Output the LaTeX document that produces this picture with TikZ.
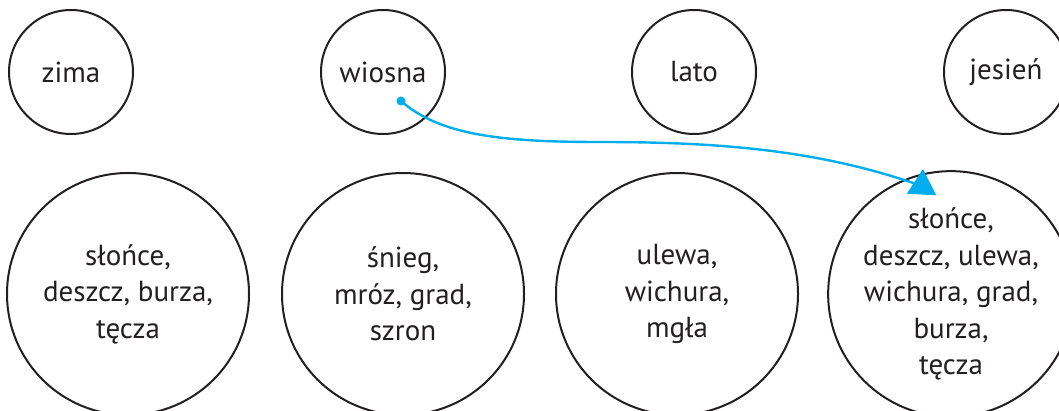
\documentclass[tikz,border=0pt]{standalone}
\usepackage{fontspec}
\setmainfont{PT Sans}
\usetikzlibrary{shapes.geometric, arrows.meta, positioning}
\definecolor{ink}{HTML}{231F20}
\definecolor{procCyan}{HTML}{00AEEF}

\begin{document}
\begin{tikzpicture}[x=1pt, y=-1pt,
  every node/.style={font=\fontsize{29}{36.5}\selectfont, text=ink},
  season/.style={draw=ink, line width=2pt, circle, minimum size=124pt,
    inner sep=0pt},
  weather/.style={draw=ink, line width=2pt, circle, minimum size=242pt,
    inner sep=0pt, align=center},
  src/.style={circle, fill=procCyan, minimum size=9pt, inner sep=0pt},
  head/.style={regular polygon, regular polygon sides=3, fill=procCyan,
    minimum size=34pt, inner sep=0pt, rotate=-3},
  arr/.style={procCyan, line width=2.4pt},
]
  \clip (0,0) rectangle (1059,411);

  \node[season] (zima)   at (71, 72)   {zima};
  \node[season] (wiosna) at (383, 72)  {wiosna};
  \node[season] (lato)   at (694, 72)  {lato};
  \node[season] (jesien) at (1006, 72) {jesień};

  \node[weather] (w1) at (128, 294) {słońce,\\deszcz, burza,\\tęcza};
  \node[weather] (w2) at (403, 294) {śnieg,\\mróz, grad,\\szron};
  \node[weather] (w3) at (677, 294) {ulewa,\\wichura,\\mgła};
  \node[weather] (w4) at (951, 294) {słońce,\\deszcz, ulewa,\\wichura, grad,\\burza,\\tęcza};

  % wiosna -> jesien
  \node[src] (start) at (401, 101) {};
  \draw[arr] (start.center) .. controls (440, 135) and (500, 142) .. (600, 142)
    .. controls (720, 142) and (820, 150) .. (922, 186);
  \node[head] (tip) at (922, 186) {};
\end{tikzpicture}
\end{document}
